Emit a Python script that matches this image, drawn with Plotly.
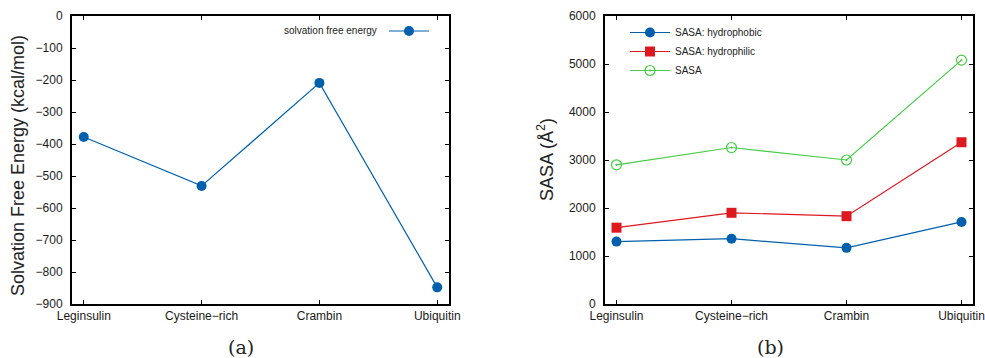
import plotly.graph_objects as go

proteins = ["Leginsulin", "Cysteine\u2212rich", "Crambin", "Ubiquitin"]
solvation_free_energy = [-378, -531, -209, -848]
sasa_hydrophobic = [1300, 1360, 1170, 1710]
sasa_hydrophilic = [1590, 1900, 1830, 3370]
sasa_total = [2900, 3260, 3000, 5080]
left_ticks = [0, -100, -200, -300, -400, -500, -600, -700, -800, -900]
right_ticks = [0, 1000, 2000, 3000, 4000, 5000, 6000]

W, H = 985, 358
BLUE = "#0060ad"
RED = "#dd181f"
GREEN = "#44cc44"
FONT = "Liberation Sans"

idx = list(range(len(proteins)))

fig = go.Figure()
fig.add_trace(go.Scatter(
    x=idx, y=solvation_free_energy, mode="lines+markers", name="",
    line=dict(color=BLUE, width=1.2), marker=dict(color=BLUE, size=10, symbol="circle"),
    xaxis="x", yaxis="y", legend="legend"))
fig.add_trace(go.Scatter(
    x=idx, y=sasa_hydrophobic, mode="lines+markers", name="SASA: hydrophobic",
    line=dict(color=BLUE, width=1.2), marker=dict(color=BLUE, size=10, symbol="circle"),
    xaxis="x2", yaxis="y2", legend="legend2"))
fig.add_trace(go.Scatter(
    x=idx, y=sasa_hydrophilic, mode="lines+markers", name="SASA: hydrophilic",
    line=dict(color=RED, width=1.2), marker=dict(color=RED, size=10, symbol="square"),
    xaxis="x2", yaxis="y2", legend="legend2"))
fig.add_trace(go.Scatter(
    x=idx, y=sasa_total, mode="lines+markers", name="SASA",
    line=dict(color=GREEN, width=1.2),
    marker=dict(color=GREEN, size=10, symbol="circle-open-dot", line=dict(width=1.2)),
    xaxis="x2", yaxis="y2", legend="legend2"))

y0 = 1 - 304 / H
y1 = 1 - 16 / H

xcommon = dict(
    tickmode="array", tickvals=idx, ticktext=proteins, range=[-0.1, 3.1],
    showline=True, linecolor="black", linewidth=2, mirror="ticks",
    ticks="inside", ticklen=4, tickwidth=1, tickcolor="black",
    showgrid=False, zeroline=False, automargin=False,
    tickfont=dict(family=FONT, size=12, color="#1a1a1a"),
)
ycommon = dict(
    showline=True, linecolor="black", linewidth=2, mirror="ticks",
    ticks="inside", ticklen=4, tickwidth=1, tickcolor="black",
    showgrid=False, zeroline=False, automargin=False,
    ticklabelstandoff=5,
    tickfont=dict(family=FONT, size=12, color="#1a1a1a"),
)

fig.update_layout(
    width=W, height=H,
    margin=dict(l=0, r=0, t=0, b=0, autoexpand=False),
    paper_bgcolor="white", plot_bgcolor="white",
    font=dict(family=FONT, color="#222"),
    xaxis=dict(domain=[72 / W, 449 / W], anchor="y", **xcommon),
    yaxis=dict(domain=[y0, y1], anchor="x", range=[-900, 0],
               tickvals=left_ticks, **ycommon),
    xaxis2=dict(domain=[605 / W, 973 / W], anchor="y2", **xcommon),
    yaxis2=dict(domain=[y0, y1], anchor="x2", range=[0, 6000],
                tickvals=right_ticks, **ycommon),
    legend=dict(
        x=384 / W, xanchor="left", y=1 - 31 / H, yanchor="middle",
        bgcolor="rgba(0,0,0,0)", font=dict(family=FONT, size=10),
        itemwidth=40,
    ),
    legend2=dict(
        x=625 / W, xanchor="left", y=1 - 18 / H, yanchor="top",
        bgcolor="rgba(0,0,0,0)", font=dict(family=FONT, size=10, color="#222"),
        itemwidth=40, tracegroupgap=0,
    ),
    showlegend=True,
)

fig.add_annotation(text="solvation free energy", x=379 / W, y=1 - 31 / H,
                   xref="paper", yref="paper", xanchor="right", yanchor="middle",
                   showarrow=False, font=dict(family=FONT, size=10, color="#222"))
fig.add_annotation(text="Solvation Free Energy (kcal/mol)", textangle=-90,
                   x=18 / W, y=1 - 166 / H, xref="paper", yref="paper",
                   xanchor="center", yanchor="middle",
                   showarrow=False, font=dict(family=FONT, size=18, color="#222"))
fig.add_annotation(text="SASA (\u00c5<sup>2</sup>)", textangle=-90,
                   x=545 / W, y=1 - 160 / H, xref="paper", yref="paper",
                   xanchor="center", yanchor="middle",
                   showarrow=False, font=dict(family=FONT, size=18, color="#222"))
fig.add_annotation(text="(a)", x=241 / W, y=1 - 347 / H, xref="paper", yref="paper",
                   xanchor="center", yanchor="middle",
                   showarrow=False, font=dict(family="DejaVu Serif", size=19, color="#222"))
fig.add_annotation(text="(b)", x=770 / W, y=1 - 347 / H, xref="paper", yref="paper",
                   xanchor="center", yanchor="middle",
                   showarrow=False, font=dict(family="DejaVu Serif", size=19, color="#222"))

fig.write_html("out.html")
